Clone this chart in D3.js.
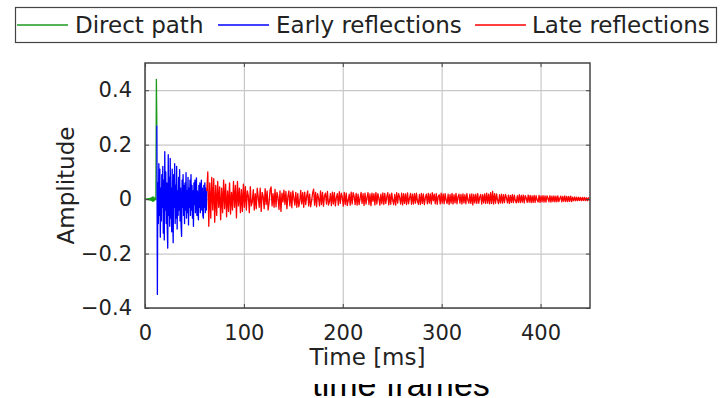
<!DOCTYPE html>
<html>
<head>
<meta charset="utf-8">
<script src="https://cdn.jsdelivr.net/npm/d3@7"></script>
<style>
  body { margin: 0; background: #fff; }
  svg { display: block; }
  .tick-label { font-family: "DejaVu Sans", sans-serif; font-size: 21px; fill: #222; }
  .axis-label { font-family: "DejaVu Sans", sans-serif; font-size: 23px; fill: #222; }
  .legend-label { font-family: "DejaVu Sans", sans-serif; font-size: 23px; fill: #222; }
</style>
</head>
<body>
<svg id="chart" width="722" height="398"></svg>
<script>
// amplitudes are in thousandths
const directStart = 0, directStep = 0.5;   // ms
const directValues = [0, 0, 1, -1, 1, -1, 2, -2, 2, -3, 3, -4, 4, -5, 6, -7, 8, -8, 7, -5, 3, -2, 0, 440, 270];

const earlyStart = 12, earlyStep = 0.5;
const earlyValues = [
  270, -350, 60, -90, 130, -60, 110, -140, 40, -80,
  90, -30, 120, -125, 70, -150, 174, -40, 100, -90,
  60, -110, -180, 163, -60, 80, -100, 150, -70, 40,
  -120, 110, -50, -160, 90, -30, 130, -90, 50, -70,
  120, -110, 30, -60, 80, -40, 108, -80, 40, -100,
  -137, 70, -30, 90, -60, 50, -90, 60, -40, 97,
  -70, 30, -50, 80, -95, 40, -30, 70, -60, 90,
  -40, 50, -70, 30, -100, 60, -20, 70, -50, 40,
  78, -60, 30, -40, -76, 50, -30, 60, -50, 20,
  70, -40, 40, -60, -70, 50, -30, 60, -50, 40,
  -40, 30
];

const lateStart = 62.5, lateStep = 1;
const lateValues = [
  30, 100, -100, 60, -70, 80, -40, 75, -85, 50,
  -60, 65, -30, 45, -76, 40, -50, 70, -35, 55,
  -65, 30, -45, 60, -55, 25, -40, 65, -30, 50,
  -69, 65, -25, 40, -50, 35, -45, 55, -30, 46,
  -40, 30, 12, -50, 46, -25, -10, 35, -40, 20,
  -35, 40, 8, -30, 40, -45, 25, 10, -35, 38,
  -20, 30, -40, -12, 34, 45, -25, 20, -30, 36,
  -28, 25, 6, -38, 30, -45, 22, -10, 33, -20,
  28, -35, 10, 30, -25, 26, -32, 30, 5, -22,
  25, -30, 20, -28, -8, 32, -18, 24, -30, 26,
  -20, 10, 30, -25, 18, -28, -6, 22, 37, -22,
  25, -28, 20, 4, -25, 30, -20, 25, -26, 12,
  22, -18, 28, -22, -10, 20, -24, 26, -18, 24,
  -25, 5, 20, -22, 27, -16, 22, 8, -26, 25,
  -20, 22, -24, -6, 18, -22, 26, -18, 24, 10,
  -20, 21, -22, 18, -20, 3, 25, -16, 20, -23,
  22, -18, 6, 24, -20, 19, -24, 22, -8, 20,
  -21, 25, -18, 20, 4, -22, 18, -17, 23, -20,
  21, -16, 8, 24, -21, 18, -19, 22, -5, -20,
  17, -22, 24, -15, 20, 6, -18, 22, -21, 20,
  -16, 19, -20, 23, -17, 4, 21, -19, 18, -18,
  20, -15, 22, -8, -19, 17, -20, 21, -16, 19,
  -20, 5, 18, -17, 21, -15, 19, -18, 24, -6,
  18, -17, 20, -19, 10, 16, -18, 22, -15, 19,
  -17, 20, -4, -16, 18, -20, 17, -15, 21, -18,
  16, -14, 21, -17, 8, 18, -15, 17, -18, 19,
  -14, 16, -17, 20, -4, -15, 18, -16, 19, -21,
  17, -14, 18, -16, 20, -15, 7, 17, -18, 16,
  -14, 19, -16, 22, -15, 18, -17, 24, -16, 28,
  -18, 20, -15, 19, -4, -17, 16, -14, 18, -15,
  16, -13, 17, 5, -14, 15, -16, 14, -12, 16,
  -13, 15, -6, -14, 13, -12, 16, -13, 14, -11,
  15, -14, 13, 4, -12, 15, -11, 14, -13, 12,
  -12, 14, -12, 13, -3, -11, 14, -12, 12, -10,
  13, -11, 12, -11, 12, 4, -10, 13, -11, 11,
  -9, 12, -10, 11, -10, 12, -9, 3, 11, -10,
  10, -8, 12, -9, 10, -9, 10, -8, 11, -9,
  7, -6, 8, -6, 7, -6, 7, -5, 6, -6,
  6, -5, 6, -5, 5, -6, 5, -5
];

const xTicks = [0, 100, 200, 300, 400];
const yTicks = [-0.4, -0.2, 0, 0.2, 0.4];
const seriesNames = ["Direct path", "Early reflections", "Late reflections"];
const seriesColors = ["#1f9a1f", "#0000ff", "#ff0000"];

const svg = d3.select("#chart");
const margin = { left: 145, right: 132, top: 63, bottom: 90 };
const width = 722, height = 398;

let x = d3.scaleLinear().domain([0, 450]).range([margin.left, width - margin.right]);
let y = d3.scaleLinear().domain([-0.4, 0.5]).range([height - margin.bottom, margin.top]);

function toPoints(start, step, values) {
  return values.map((v, i) => ({ t: start + i * step, a: v / 1000 }));
}

let series = [
  toPoints(directStart, directStep, directValues),
  toPoints(earlyStart, earlyStep, earlyValues),
  toPoints(lateStart, lateStep, lateValues)
];

let defs = svg.append("defs");
defs.append("filter").attr("id", "soft")
  .append("feGaussianBlur").attr("stdDeviation", 0.4);

// caption underneath, mostly hidden behind the chart image
defs.append("clipPath").attr("id", "capclip")
  .append("rect").attr("x", 0).attr("y", 384).attr("width", width).attr("height", 20);
svg.append("text")
  .attr("clip-path", "url(#capclip)")
  .attr("x", 401).attr("y", 396)
  .attr("text-anchor", "middle")
  .style("font-family", "'Liberation Sans', Arial, sans-serif")
  .style("font-size", "34px")
  .attr("fill", "#000")
  .text("time frames");

// grid
svg.append("g")
  .attr("transform", `translate(0,${y.range()[0]})`)
  .call(d3.axisBottom(x).tickValues(xTicks).tickSize(-(y.range()[0] - y.range()[1])).tickFormat(""))
  .call(g => g.select(".domain").remove())
  .call(g => g.selectAll("line").attr("stroke", "#c8c8c8").attr("stroke-width", 1.2));
svg.append("g")
  .attr("transform", `translate(${x.range()[0]},0)`)
  .call(d3.axisLeft(y).tickValues(yTicks).tickSize(-(x.range()[1] - x.range()[0])).tickFormat(""))
  .call(g => g.select(".domain").remove())
  .call(g => g.selectAll("line").attr("stroke", "#c8c8c8").attr("stroke-width", 1.2));

// signal
defs.append("clipPath").attr("id", "plotclip")
  .append("rect")
  .attr("x", x.range()[0]).attr("y", y.range()[1])
  .attr("width", x.range()[1] - x.range()[0]).attr("height", y.range()[0] - y.range()[1]);

let line = d3.line().x(d => x(d.t)).y(d => y(d.a));
svg.append("g").attr("clip-path", "url(#plotclip)")
  .append("g").attr("filter", "url(#soft)")
  .selectAll("path")
  .data(series)
  .join("path")
  .attr("d", line)
  .attr("fill", "none")
  .attr("stroke", (d, i) => seriesColors[i])
  .attr("stroke-width", 1.3)
  .attr("stroke-linejoin", "round");

// ticks inside the frame, on all four sides
const tickLen = 4;
const fmt = d => d < 0 ? "\u2212" + Math.abs(d) : String(d);
svg.append("g")
  .attr("transform", `translate(0,${y.range()[0]})`)
  .call(d3.axisBottom(x).tickValues(xTicks).tickSizeInner(-tickLen).tickSizeOuter(0).tickPadding(12).tickFormat(fmt))
  .call(g => g.select(".domain").remove())
  .call(g => g.selectAll("line").attr("stroke", "#444"))
  .call(g => g.selectAll("text").attr("class", "tick-label").attr("fill", null).attr("dy", "0.95em"));
svg.append("g")
  .attr("transform", `translate(0,${y.range()[1]})`)
  .call(d3.axisTop(x).tickValues(xTicks).tickSizeInner(-tickLen).tickSizeOuter(0).tickFormat(""))
  .call(g => g.select(".domain").remove())
  .call(g => g.selectAll("line").attr("stroke", "#444"));
svg.append("g")
  .attr("transform", `translate(${x.range()[0]},0)`)
  .call(d3.axisLeft(y).tickValues(yTicks).tickSizeInner(-tickLen).tickSizeOuter(0).tickPadding(13).tickFormat(fmt))
  .call(g => g.select(".domain").remove())
  .call(g => g.selectAll("line").attr("stroke", "#444"))
  .call(g => g.selectAll("text").attr("class", "tick-label").attr("fill", null));
svg.append("g")
  .attr("transform", `translate(${x.range()[1]},0)`)
  .call(d3.axisRight(y).tickValues(yTicks).tickSizeInner(-tickLen).tickSizeOuter(0).tickFormat(""))
  .call(g => g.select(".domain").remove())
  .call(g => g.selectAll("line").attr("stroke", "#444"));

// frame
svg.append("rect")
  .attr("x", x.range()[0]).attr("y", y.range()[1])
  .attr("width", x.range()[1] - x.range()[0]).attr("height", y.range()[0] - y.range()[1])
  .attr("fill", "none").attr("stroke", "#444").attr("stroke-width", 1.5);

// axis titles
svg.append("text").attr("class", "axis-label")
  .attr("x", (x.range()[0] + x.range()[1]) / 2).attr("y", 365)
  .attr("text-anchor", "middle")
  .text("Time [ms]");
svg.append("text").attr("class", "axis-label")
  .attr("transform", `translate(74,${y(0.05)})rotate(-90)`)
  .attr("text-anchor", "middle")
  .text("Amplitude");

// legend
let legend = svg.append("g");
legend.append("rect")
  .attr("x", 15.5).attr("y", 7.5).attr("width", 701).attr("height", 35)
  .attr("fill", "#fff").attr("stroke", "#444").attr("stroke-width", 1.2);
let legendLineX = [17, 218, 475];
let legendTextX = [75, 276, 532];
seriesNames.forEach((name, i) => {
  legend.append("line")
    .attr("x1", legendLineX[i]).attr("x2", legendLineX[i] + 51)
    .attr("y1", 25).attr("y2", 25)
    .attr("stroke", seriesColors[i]).attr("stroke-width", 1.5);
  legend.append("text").attr("class", "legend-label")
    .attr("x", legendTextX[i]).attr("y", 33)
    .text(name);
});
</script>
</body>
</html>
